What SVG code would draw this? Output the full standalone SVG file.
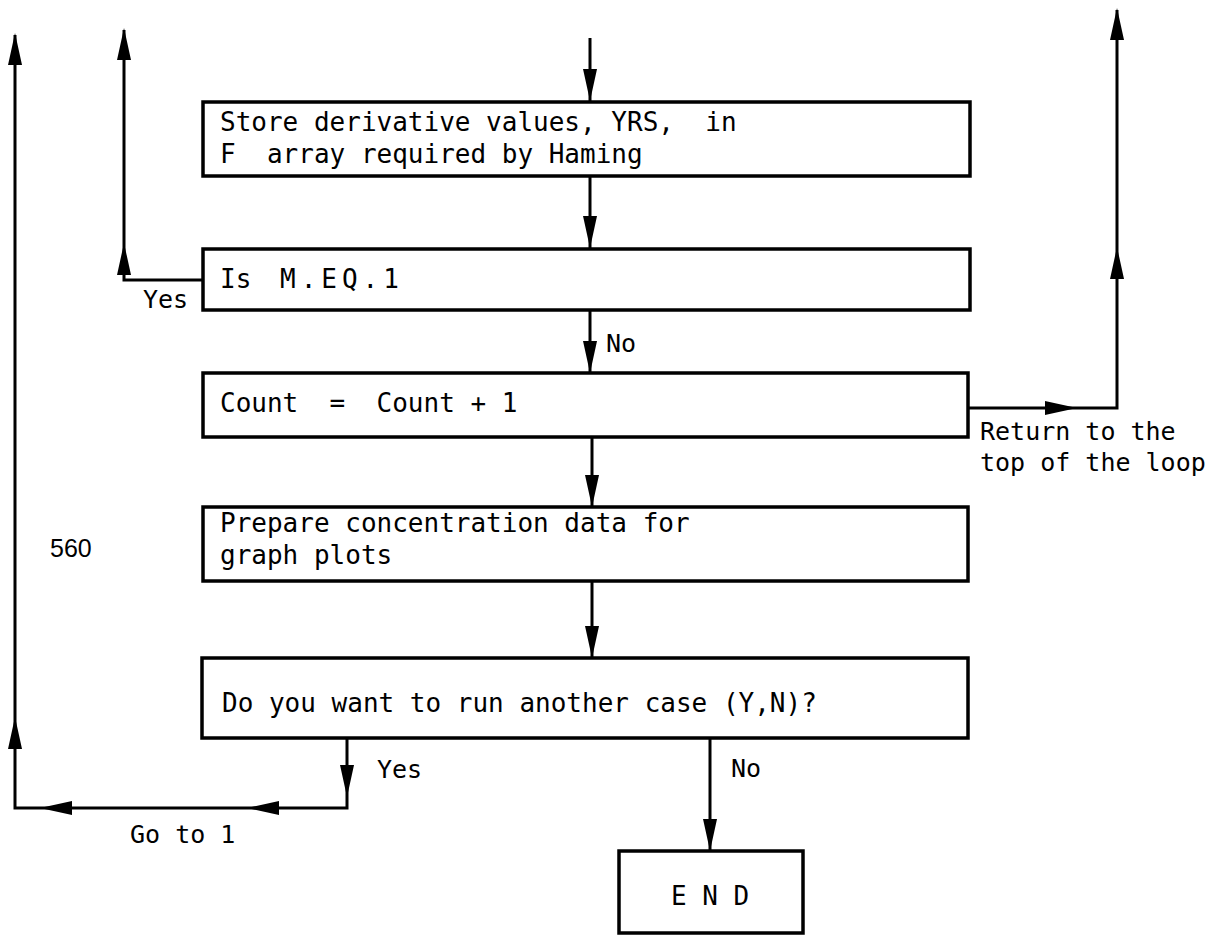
<svg xmlns="http://www.w3.org/2000/svg" width="1219" height="938" viewBox="0 0 1219 938" xml:space="preserve">
<style>
.box{fill:#fff;stroke:#000;stroke-width:3.5}
.ln{fill:none;stroke:#000;stroke-width:3}
.t{font-family:"DejaVu Sans Mono","Liberation Mono",monospace;font-size:26px;fill:#000;white-space:pre}
.lb{font-family:"DejaVu Sans Mono","Liberation Mono",monospace;font-size:25px;fill:#000;white-space:pre}
.n{font-family:"Liberation Sans","DejaVu Sans",sans-serif;font-size:25px;fill:#000}
</style>
<defs>
<path id="ah" d="M0,0 L-7,-32 L7,-32 Z" fill="#000"/>
</defs>
<rect width="1219" height="938" fill="#fff"/>
<g id="connectors">
<path class="ln" d="M590,38 V101"/>
<path class="ln" d="M590,176 V248"/>
<path class="ln" d="M590,310 V373"/>
<path class="ln" d="M592,437 V507"/>
<path class="ln" d="M592,582 V658"/>
<path class="ln" d="M710,738 V851"/>
<path class="ln" d="M203,280 H124 V30"/>
<path class="ln" d="M968,408 H1117 V10"/>
<path class="ln" d="M347,738 V808 H15 V35"/>
<use href="#ah" transform="translate(590,101)"/>
<use href="#ah" transform="translate(590,248)"/>
<use href="#ah" transform="translate(590,373)"/>
<use href="#ah" transform="translate(592,507)"/>
<use href="#ah" transform="translate(592,658)"/>
<use href="#ah" transform="translate(710,851)"/>
<use href="#ah" transform="translate(124,28) rotate(180)"/>
<use href="#ah" transform="translate(124,243) rotate(180)"/>
<use href="#ah" transform="translate(1077,408) rotate(-90)"/>
<use href="#ah" transform="translate(1117,8) rotate(180)"/>
<use href="#ah" transform="translate(1117,247) rotate(180)"/>
<use href="#ah" transform="translate(347,797)"/>
<use href="#ah" transform="translate(247,808) rotate(90)"/>
<use href="#ah" transform="translate(40,808) rotate(90)"/>
<use href="#ah" transform="translate(15,717) rotate(180)"/>
<use href="#ah" transform="translate(15,33) rotate(180)"/>
</g>
<g id="labels">
<text class="lb" x="143" y="308">Yes</text>
<text class="lb" x="606" y="352">No</text>
<text class="lb"><tspan x="980" y="440">Return to the</tspan><tspan x="980" y="471">top of the loop</tspan></text>
<text class="n" x="50" y="557">560</text>
<text class="lb" x="377" y="778">Yes</text>
<text class="lb" x="731" y="777">No</text>
<text class="lb" x="130" y="843">Go to 1</text>
</g>
<g id="node-store">
<rect class="box" x="203" y="102" width="767" height="74"/>
<text class="t"><tspan x="220" y="131">Store derivative values, YRS,  in</tspan><tspan x="220" y="163">F  array required by Haming</tspan></text>
</g>
<g id="node-is">
<rect class="box" x="203" y="249" width="767" height="61"/>
<text class="t" y="288"><tspan x="220">Is</tspan><tspan x="280" letter-spacing="5">M.EQ.1</tspan></text>
</g>
<g id="node-count">
<rect class="box" x="203" y="373" width="765" height="64"/>
<text class="t" x="220" y="412">Count  =  Count + 1</text>
</g>
<g id="node-prepare">
<rect class="box" x="203" y="507" width="765" height="74"/>
<text class="t"><tspan x="220" y="532">Prepare concentration data for</tspan><tspan x="220" y="564">graph plots</tspan></text>
</g>
<g id="node-ask">
<rect class="box" x="202" y="658" width="766" height="80"/>
<text class="t" x="222" y="712">Do you want to run another case (Y,N)?</text>
</g>
<g id="node-end">
<rect class="box" x="619" y="851" width="184" height="82"/>
<text class="t" x="671" y="905">E N D</text>
</g>
</svg>
